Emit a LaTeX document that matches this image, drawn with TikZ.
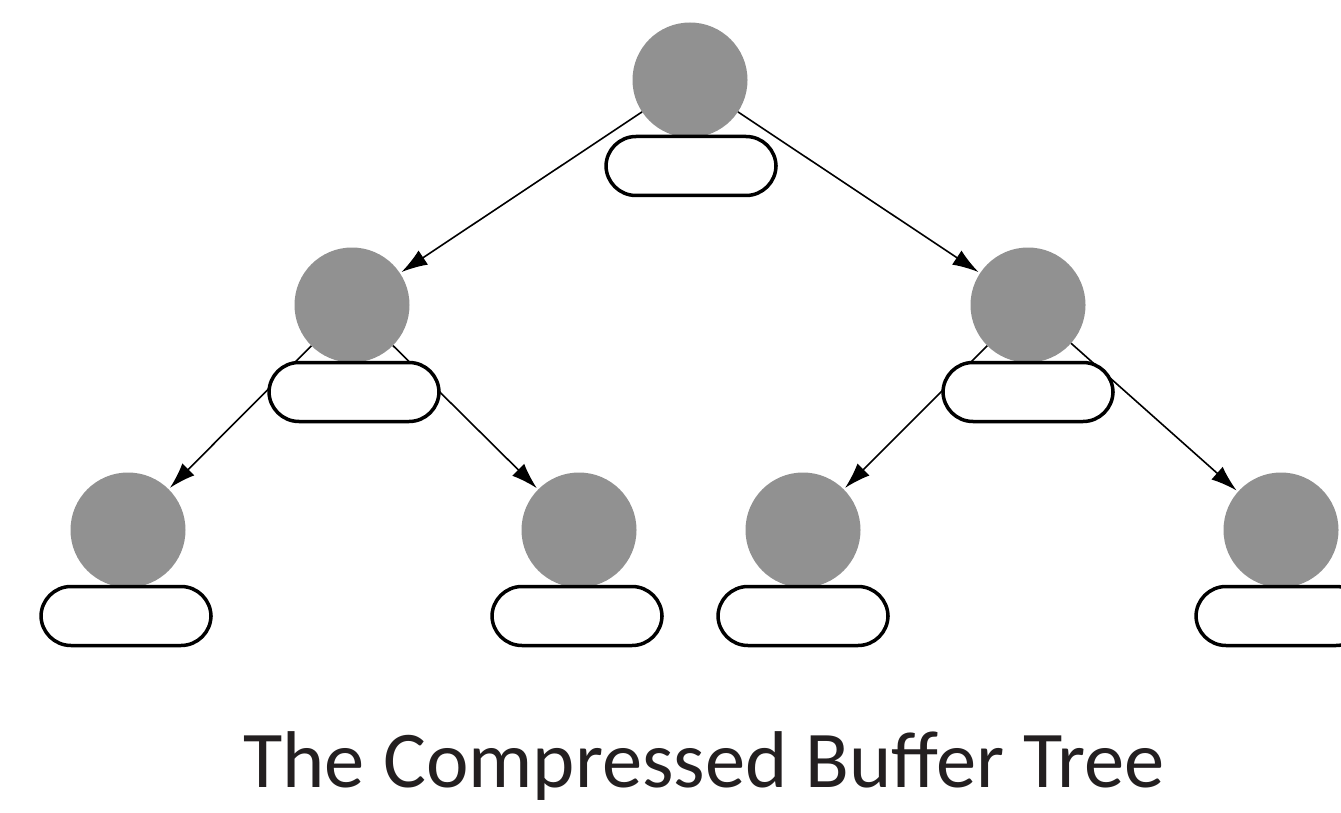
\documentclass[tikz,border=0pt]{standalone}
\usepackage{fontspec}
\setmainfont{Carlito}
\usetikzlibrary{arrows.meta,backgrounds}
\definecolor{nodegray}{HTML}{919191}
\definecolor{inkdark}{HTML}{231F20}
\begin{document}
\begin{tikzpicture}[x=1pt,y=-1pt,
  tnode/.style={circle,fill=nodegray,draw=none,minimum size=115pt,inner sep=0pt,outer sep=0pt},
  buf/.style={rectangle,rounded corners=30pt,draw=black,line width=3.5pt,fill=white,
    minimum width=170pt,minimum height=59pt,inner sep=0pt},
  link/.style={line width=1.6pt,draw=black,shorten >=2pt,
    -{Latex[length=26pt,width=17pt]}}]
\clip (0,0) rectangle (1341,813);
% tree nodes
\node[tnode] (r)   at (690,80)  {};
\node[tnode] (a)   at (352,305) {};
\node[tnode] (b)   at (1028,305) {};
\node[tnode] (aa)  at (128,530) {};
\node[tnode] (ab)  at (579,530) {};
\node[tnode] (ba)  at (803,530) {};
\node[tnode] (bb)  at (1281,530) {};
% buffers under each node
\node[buf] (rb)  at (691,166) {};
\node[buf] (ab0) at (354,392) {};
\node[buf] (bb0) at (1028,392) {};
\node[buf] (aab) at (126,616) {};
\node[buf] (abb) at (577,616) {};
\node[buf] (bab) at (803,616) {};
\node[buf] (bbb) at (1281,616) {};
% page background, then parent-to-child links kept behind the buffers
\begin{scope}[on background layer]
\fill[white] (0,0) rectangle (1341,813);
\draw[link] (r) -- (a);
\draw[link] (r) -- (b);
\draw[link] (a) -- (aa);
\draw[link] (a) -- (ab);
\draw[link] (b) -- (ba);
\draw[link] (b) -- (bb);
\end{scope}
% caption
\node[text=inkdark,font=\fontsize{80.5pt}{92pt}\selectfont] (cap) at (704,766) {The Compressed Buffer Tree};
\end{tikzpicture}
\end{document}
